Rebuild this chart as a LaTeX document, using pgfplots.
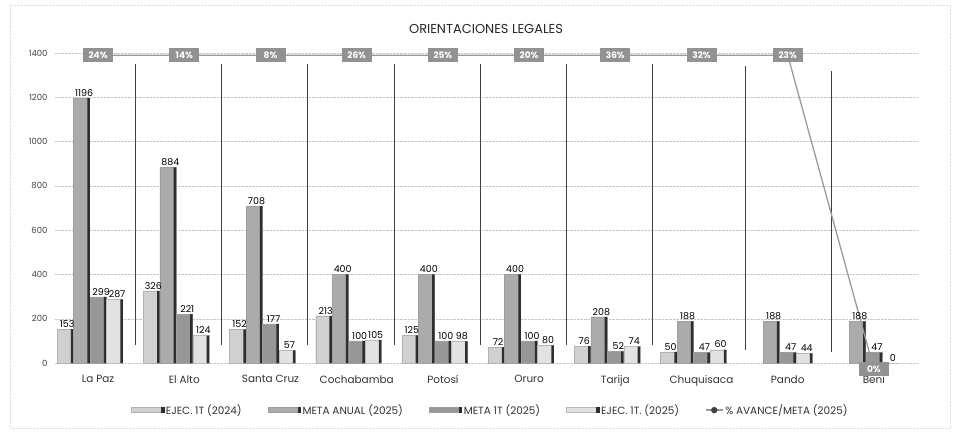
\documentclass[border=0pt]{standalone}
\usepackage{fontspec}
\setmainfont{Poppins}
\usepackage{pgfplots}
\usepackage{pgfplotstable}
\pgfplotsset{compat=1.18}
\definecolor{ejecA}{HTML}{D0D0D0}
\definecolor{metaA}{HTML}{ABABAB}
\definecolor{metaT}{HTML}{979797}
\definecolor{ejecB}{HTML}{E2E2E2}
\definecolor{pctbox}{HTML}{929292}
\definecolor{pctline}{HTML}{9A9A9A}
\definecolor{edge}{HTML}{2E2E2E}

% category, EJEC. 1T (2024), META ANUAL (2025), META 1T (2025), EJEC. 1T. (2025)
\pgfplotstableread{
x ejec24 metaan meta1t ejec25
0 153 1196 299 287
1 326 884 221 124
2 152 708 177 57
3 213 400 100 105
4 125 400 100 98
5 72 400 100 80
6 76 208 52 74
7 50 188 47 60
8 nan 188 47 44
9 nan 188 47 0
}\datatab

\pgfplotsset{
  /pgf/number format/1000 sep={},
  barlegend/.style={legend image code/.code={\path[##1] (0bp,-2.5bp) rectangle (32bp,2.5bp);\fill[edge] (30bp,-2.5bp) rectangle (32.5bp,2.5bp);}},
  edgebar/.style={ybar, bar width=2.5bp, bar shift=#1, fill=edge, draw=none, forget plot},
  valnode/.style={nodes near coords, every node near coord/.append style={xshift=#1}},
}
\begin{document}
\begin{tikzpicture}[font=\fontsize{9}{10}\selectfont]
\useasboundingbox (-55bp,-71bp) rectangle (901bp,363bp);
\draw[gray!25, densely dotted] (-45bp,-65bp) rectangle (895bp,358bp);
\begin{axis}[
  scale only axis, width=862bp, height=310bp,
  xmin=-0.5, xmax=9.5, ymin=0, ymax=1400,
  ytick={0,200,...,1400},
  xtick={0,...,9},
  xticklabels={La Paz, El Alto, Santa Cruz, Cochabamba, Potosí, Oruro, Tarija, Chuquisaca, Pando, \raisebox{-5bp}{Beni}},
  axis line style={draw=none}, major tick length=0pt,
  ymajorgrids, grid style={densely dotted, gray!45},
  /pgf/number format/assume math mode=true,
  yticklabel style={xshift=-4bp, text=black!75, font=\fontsize{8.5}{10}\selectfont},
  xticklabel style={yshift=-9bp, text=black!80, font=\fontsize{10.5}{12}\selectfont},
  bar width=16bp,
  clip=false,
  legend columns=5,
  legend style={draw=none, at={(0.505,-0.152)}, anchor=center,
    font=\fontsize{10.5}{12}\selectfont, text=black!80,
    /tikz/every even column/.append style={column sep=24bp}},
  every node near coord/.append style={font=\fontsize{9.5}{10}\selectfont, black, inner sep=1.5bp},
]
% vertical separators
\addplot[black!75, forget plot] coordinates {(0.428,80) (0.428,1350)};
\addplot[black!75, forget plot] coordinates {(1.426,80) (1.426,1350)};
\addplot[black!75, forget plot] coordinates {(2.423,80) (2.423,1350)};
\addplot[black!75, forget plot] coordinates {(3.433,80) (3.433,1350)};
\addplot[black!75, forget plot] coordinates {(4.430,80) (4.430,1350)};
\addplot[black!75, forget plot] coordinates {(5.428,80) (5.428,1350)};
\addplot[black!75, forget plot] coordinates {(6.426,80) (6.426,1350)};
\addplot[black!75, forget plot] coordinates {(7.505,60) (7.505,1340)};
\addplot[black!75, forget plot] coordinates {(8.502,50) (8.502,1320)};
% EJEC. 1T (2024)
\addplot[ybar, bar shift=-33bp, fill=ejecA, draw=gray!60, barlegend, valnode=-31bp] table[x=x, y=ejec24] {\datatab};
\addlegendentry{EJEC. 1T (2024)}
\addplot[edgebar=-26bp] table[x=x, y=ejec24] {\datatab};
% META ANUAL (2025)
\addplot[ybar, bar shift=-16.5bp, fill=metaA, draw=gray!75, barlegend, valnode=-14bp] table[x=x, y=metaan] {\datatab};
\addlegendentry{META ANUAL (2025)}
\addplot[edgebar=-9.5bp] table[x=x, y=metaan] {\datatab};
% META 1T (2025)
\addplot[ybar, bar shift=0bp, fill=metaT, draw=gray!75, barlegend, valnode=3bp] table[x=x, y=meta1t] {\datatab};
\addlegendentry{META 1T (2025)}
\addplot[edgebar=7bp] table[x=x, y=meta1t] {\datatab};
% EJEC. 1T. (2025)
\addplot[ybar, bar shift=16.5bp, fill=ejecB, draw=gray!55, barlegend, valnode=19bp] table[x=x, y=ejec25] {\datatab};
\addlegendentry{EJEC. 1T. (2025)}
\addplot[edgebar=23.5bp] table[x=x, y=ejec25] {\datatab};
% % AVANCE/META (2025)
\addplot[pctline, line width=1.3pt, mark=*, mark size=2.5pt, mark options={black!75, fill=black!75},
  point meta=explicit symbolic, nodes near coords,
  every node near coord/.style={anchor=center, fill=pctbox, text=white, font=\bfseries\fontsize{9}{10}\selectfont, inner xsep=4bp, inner ysep=3.5bp, minimum width=30bp}]
  coordinates {
  (0,1390) [24\%] (1,1390) [14\%] (2,1390) [8\%] (3,1390) [26\%] (4,1390) [25\%]
  (5,1390) [20\%] (6,1390) [36\%] (7,1390) [32\%] (8,1390) [23\%] (9,-27) [0\%]
};
\addlegendentry{\% AVANCE/META (2025)}
\end{axis}
\node[font=\fontsize{13}{15}\selectfont, text=black!85] at (431bp,334bp) {ORIENTACIONES LEGALES};
\end{tikzpicture}
\end{document}
